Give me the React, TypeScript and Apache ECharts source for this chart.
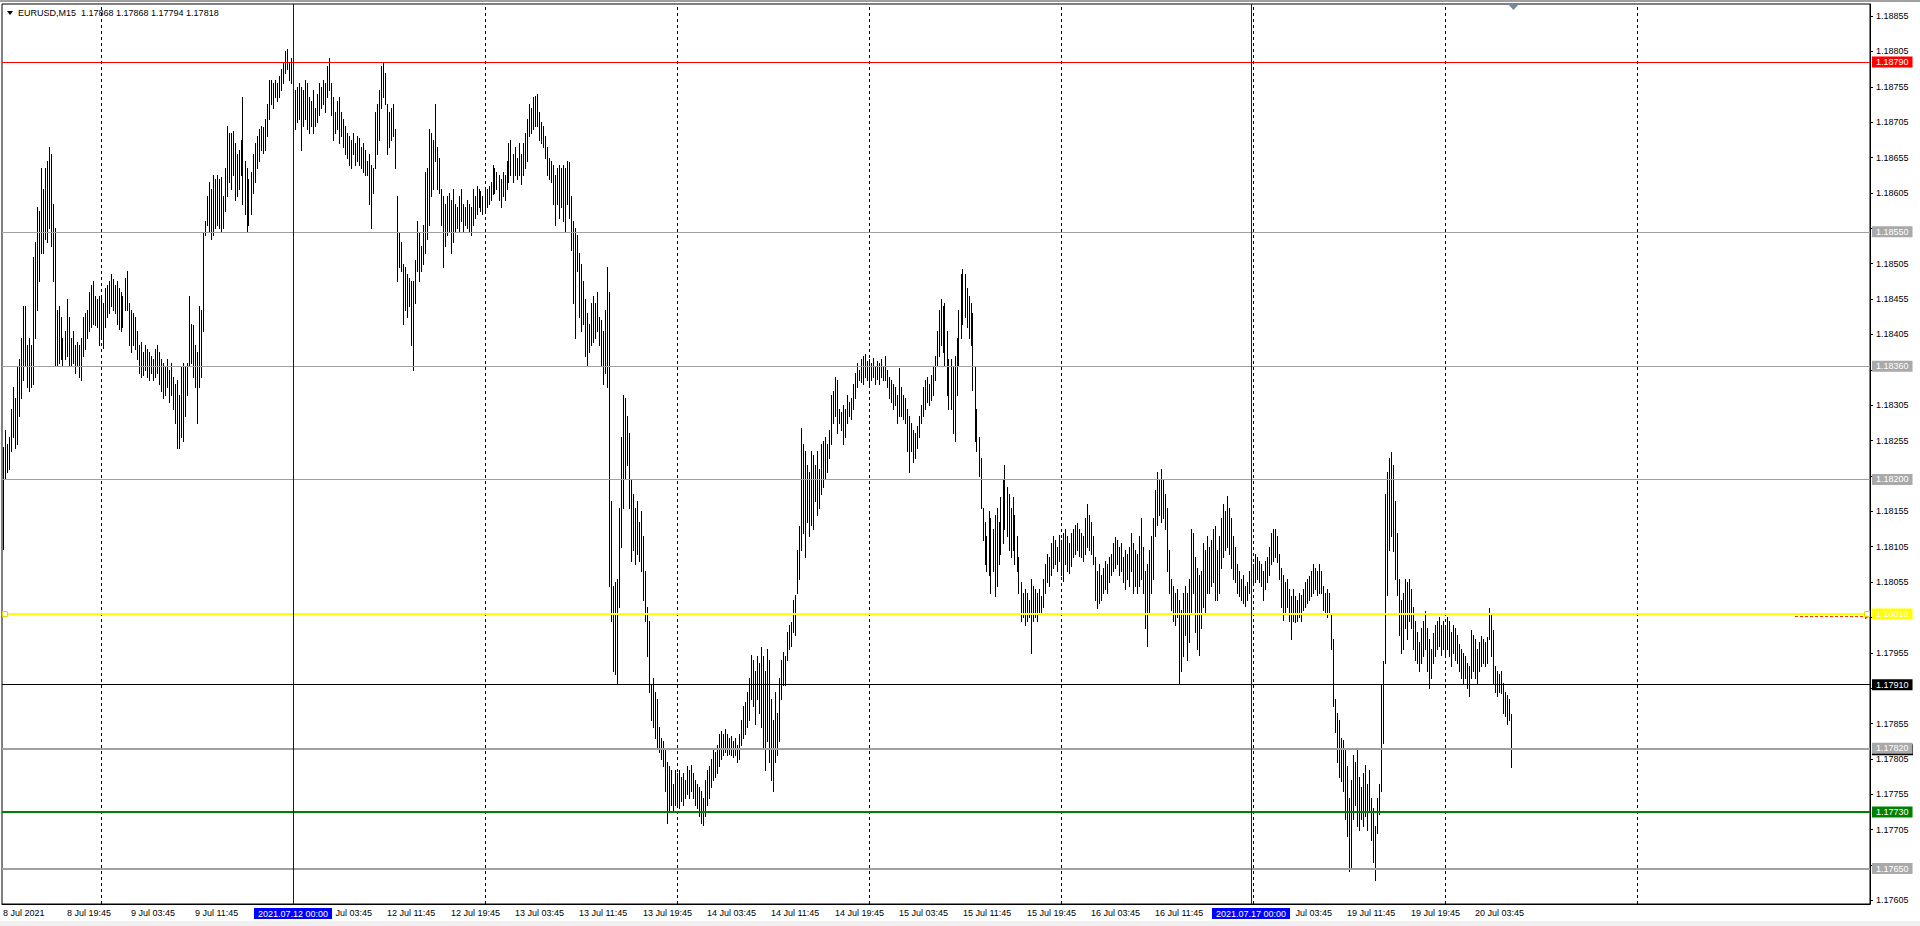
import React, { useEffect, useRef } from 'react';
import * as echarts from 'echarts';

// ---- data (prices are stored in points of 0.00001 above BASE_PRICE) ----
const BASE_PRICE = 1.176;
const POINT = 0.00001;

const jul08High = [646,670,650,660,700,730,715,760,770,800,845,845,790,800,790,915,935,985,980,1040,1010,1040,1050,1070,1060,990,955,840,845,830,800,810,855,830,800,810,790,795,790,800,830,835,840,865,875,880,860,855,860];
const jul08Low = [502,600,610,615,640,660,645,650,690,715,740,760,730,725,730,735,800,840,880,920,920,940,935,955,930,880,760,762,765,770,762,770,775,762,760,765,750,760,745,740,775,785,800,810,815,820,818,815,790];

const jul09High = [860,850,870,875,880,890,883,875,880,870,865,860,885,895,850,840,835,830,810,790,795,780,790,785,780,775,770,785,790,780,770,765,760,770,755,765,745,735,740,720,760,765,760,765,860,820,818,790,780,845,840,950,965,1000,1020,1010,1030,1025,1030,1025,1028,1000,1040,1100,1090,1090,1092,1075,1060,1065,1080,1140,1050,1040,1025,1035,1060,1075,1085,1095,1100,1098,1110,1130,1165,1165,1160,1165,1160,1170,1180,1190,1205,1208,1190,1195];
const jul09Low = [800,786,815,830,835,845,840,835,820,812,810,815,840,840,790,780,790,785,770,750,745,748,755,745,740,750,740,745,750,735,725,715,720,730,710,720,700,680,645,645,660,655,690,720,760,765,745,730,680,730,745,810,945,960,950,940,945,955,960,955,950,955,980,1000,1020,1010,1030,995,1000,1010,1030,990,975,950,960,975,1005,1020,1040,1050,1065,1062,1065,1085,1110,1130,1125,1140,1135,1140,1150,1160,1175,1180,1165,1160];

const jul12High = [1160,1150,1155,1160,1155,1150,1165,1160,1140,1135,1150,1125,1145,1160,1155,1165,1160,1185,1195,1160,1140,1120,1135,1140,1120,1110,1100,1090,1085,1080,1090,1075,1085,1082,1070,1075,1065,1050,1060,1045,1040,1120,1130,1150,1185,1190,1175,1130,1120,1125,1130,1095,1000,950,935,905,900,890,885,880,880,910,965,950,930,960,1035,1040,1095,1090,1080,1130,1070,1055,1010,1000,990,1000,1005,995,1010,990,985,1000,1010,990,985,995,990,985,1010,1000,1015,1010,1008,1000];
const jul12Low = [1100,1095,1105,1110,1065,1100,1110,1095,1090,1100,1090,1100,1105,1115,1125,1130,1120,1140,1150,1115,1080,1090,1095,1075,1085,1070,1060,1055,1045,1040,1060,1045,1050,1045,1040,1035,1030,1030,990,955,1005,1040,1060,1080,1125,1140,1130,1060,1070,1080,1085,1040,880,900,895,820,840,830,845,790,755,850,895,880,895,905,920,940,960,1000,1010,1050,1010,1005,960,900,930,945,950,920,935,950,955,950,965,950,960,955,950,945,960,970,975,985,980,975];

const jul13High = [1012,1010,1015,1020,1045,1040,1035,1030,1025,1035,1030,1050,1075,1080,1060,1070,1055,1075,1060,1075,1090,1110,1130,1125,1140,1142,1145,1120,1105,1100,1085,1070,1055,1050,1045,1030,1040,1045,1040,1045,1040,1050,1048,1000,965,955,945,920,905,880,855,835,820,850,860,850,865,830,825,810,840,900,865,570,450,455,460,560,660,720,715,690,665,600,580,560,570,540,555,520,470,420,400,310,320,300,290,250,235,230,220,200,195,190,170,190];
const jul13Low = [980,985,990,995,1003,1005,1010,995,985,1000,995,1010,1020,1030,1020,1030,1025,1030,1018,1030,1040,1050,1085,1090,1095,1100,1100,1080,1075,1070,1055,1030,1025,1020,990,960,990,970,985,965,950,990,970,925,850,800,895,830,810,820,775,760,780,790,795,800,810,790,760,735,750,730,450,400,330,325,313,420,505,560,600,620,560,485,500,480,495,485,470,430,400,350,300,260,250,235,220,215,205,195,160,115,130,140,130,140];

const jul14High = [185,190,180,185,175,195,190,197,185,175,170,165,160,150,175,190,195,205,220,215,225,240,245,240,247,240,235,238,230,235,225,240,260,280,285,300,320,352,345,330,350,340,363,350,330,360,345,290,260,300,270,320,345,356,350,385,395,398,430,437,500,534,673,650,640,620,610,640,635,620,640,615,650,655,660,650,670,720,725,745,740,700,695,705,700,720,710,715,735,750,765,755,770,775,778,768];
const jul14Low = [140,135,145,140,150,155,150,160,150,140,135,125,115,111,125,140,150,165,175,180,185,195,205,210,215,210,212,210,208,210,200,205,225,235,240,250,260,290,280,255,290,270,250,220,190,230,200,175,160,200,210,230,290,309,310,345,360,365,385,380,440,460,500,525,490,540,520,535,530,570,550,560,580,590,600,610,630,650,680,690,665,680,670,650,660,680,690,685,700,715,730,740,738,735,745,740];

const jul15High = [770,765,772,760,768,765,770,760,775,755,745,740,735,730,720,758,730,720,715,700,690,680,670,665,675,690,705,730,740,745,735,748,760,775,810,840,855,845,850,810,770,770,760,775,800,840,890,898,890,870,860,850,835,760,700,660,630,560,540,520,555,545,530,550,560,540,575,600,620,590,580,560,575,550,520,490,455,440,445,440,430,460,450,445,440,445,435,460,480,495,490,510,520,515,505,522];
const jul15Low = [735,740,745,735,742,735,745,740,740,730,715,710,700,705,680,690,690,685,680,640,610,640,625,630,645,660,680,690,700,710,705,712,720,740,760,775,790,780,760,720,700,700,665,655,720,760,800,820,830,815,800,790,727,655,640,605,560,515,480,470,465,440,470,435,450,480,495,510,530,520,500,490,500,480,470,440,400,405,395,400,405,355,400,405,400,410,410,420,440,455,450,465,475,480,470,485];

const jul16High = [515,525,530,520,510,525,530,535,538,530,525,520,545,565,550,540,520,490,470,480,465,475,485,480,490,495,510,518,515,505,510,490,500,495,505,525,510,500,495,520,545,505,470,480,500,520,545,585,610,600,615,600,580,560,500,460,450,440,445,430,415,440,450,440,460,530,525,490,475,465,470,510,500,520,505,515,530,534,500,520,545,565,555,576,560,545,520,505,480,470,460,465,450,455,470,465];
const jul16Low = [465,456,480,470,468,478,490,495,500,492,490,485,495,505,500,495,480,430,418,425,430,440,445,440,455,465,470,475,480,465,470,455,445,460,450,470,440,450,440,450,460,440,390,365,410,440,460,520,535,550,540,545,530,470,440,415,400,395,405,313,330,350,380,345,370,410,440,385,360,352,390,420,410,440,440,450,455,430,430,440,475,490,500,505,495,475,460,455,440,435,430,425,421,430,440,429];

const jul19High = [480,495,490,485,480,470,485,491,505,525,530,530,520,495,475,465,455,460,445,435,445,435,430,440,437,445,455,460,464,470,480,475,470,480,470,450,440,445,440,410,375,290,270,260,235,232,220,195,150,175,210,200,220,180,165,185,197,170,190,150,135,110,150,170,310,344,580,610,630,639,620,570,525,460,430,440,460,455,460,445,420,400,385,370,390,400,414,390,375,360,383,395,400,406,395,400];
const jul19Low = [452,455,460,455,450,429,445,455,465,480,485,490,483,460,420,402,410,420,400,375,400,398,400,405,400,415,420,425,430,435,440,445,437,440,440,415,410,406,410,360,280,243,200,180,174,160,120,96,46,50,120,140,110,104,120,110,125,104,130,90,60,34,100,127,160,228,340,437,500,520,499,460,437,380,355,360,390,375,400,390,360,345,340,330,340,350,360,330,305,320,340,350,360,365,352,360];

const jul20High = [395,406,400,385,395,390,380,367,360,355,350,340,336,387,380,375,360,370,379,375,370,378,418,410,387,336,330,325,330,313,300,295,290,268];
const jul20Low = [350,360,350,336,355,345,340,330,320,313,320,305,294,320,330,320,313,330,336,340,336,340,375,350,313,300,294,300,298,270,265,255,260,194];

const sessions = [
  { date: '2021.07.08', firstSlot: 47, high: jul08High, low: jul08Low },
  { date: '2021.07.09', firstSlot: 0, high: jul09High, low: jul09Low },
  { date: '2021.07.12', firstSlot: 0, high: jul12High, low: jul12Low },
  { date: '2021.07.13', firstSlot: 0, high: jul13High, low: jul13Low },
  { date: '2021.07.14', firstSlot: 0, high: jul14High, low: jul14Low },
  { date: '2021.07.15', firstSlot: 0, high: jul15High, low: jul15Low },
  { date: '2021.07.16', firstSlot: 0, high: jul16High, low: jul16Low },
  { date: '2021.07.19', firstSlot: 0, high: jul19High, low: jul19Low },
  { date: '2021.07.20', firstSlot: 0, high: jul20High, low: jul20Low },
];
const futureDates = ['2021.07.21', '2021.07.22'];
const gridDates = ['2021.07.09', '2021.07.12', '2021.07.13', '2021.07.14', '2021.07.15', '2021.07.16', '2021.07.19', '2021.07.20', '2021.07.21'];

const titleSymbol = 'EURUSD,M15';
const lastBarOhlc = [1.17868, 1.17868, 1.17794, 1.17818];
const levelPrices = [1.1879, 1.1855, 1.1836, 1.182, 1.1801, 1.1791, 1.1782, 1.1773, 1.1765];
const markerTimes = ['2021.07.12 00:00', '2021.07.17 00:00'];
const yTickValues = [1.17605, 1.17655, 1.17705, 1.17755, 1.17805, 1.17855, 1.17905, 1.17955, 1.18005, 1.18055, 1.18105, 1.18155, 1.18205, 1.18255, 1.18305, 1.18355, 1.18405, 1.18455, 1.18505, 1.18555, 1.18605, 1.18655, 1.18705, 1.18755, 1.18805, 1.18855];
// [fromSlot, toSlot, price]: alert segment, then the two yellow end markers
const overlayMarks = [
  [896, 932, 1.18007],
  [1, 1, 1.1801],
  [932, 932, 1.1801],
];
const monthLabel = 'Jul';

// ---- styles ----
const FONT = '"Liberation Sans", Arial, sans-serif';
const levelStyles = [
  { line: '#ff0000', width: 1, box: '#ff0000' },
  { line: '#a0a0a0', width: 1, box: '#a9a9a9' },
  { line: '#a0a0a0', width: 1, box: '#a9a9a9' },
  { line: '#a0a0a0', width: 1, box: '#a9a9a9' },
  { line: '#ffff00', width: 2, box: '#ffff00' },
  { line: '#000000', width: 1, box: '#000000' },
  { line: '#a0a0a0', width: 2, box: '#a9a9a9' },
  { line: '#008000', width: 2, box: '#008000' },
  { line: '#a0a0a0', width: 2, box: '#a9a9a9' },
];
const TOTAL_SLOTS = 934;
const GRID_LEFT = 2;
const SLOT_PX = 2;
const MARKER_BOX_HALF = 40; // half width of the blue time boxes, px
const DAY_PREFIX_PX = 12.5; // width of "12 " at 9px

const pad = (n: number) => (n < 10 ? '0' + n : '' + n);
const slotTime = (s: number) => pad(Math.floor(s / 4)) + ':' + pad((s % 4) * 15);

function buildData() {
  const categories: string[] = [];
  const bars: number[][] = [];
  sessions.forEach((s) => {
    s.high.forEach((h, j) => {
      const idx = categories.length;
      categories.push(s.date + ' ' + slotTime(s.firstSlot + j));
      bars.push([idx, BASE_PRICE + s.low[j] * POINT, BASE_PRICE + h * POINT]);
    });
  });
  const lastIndex = categories.length - 1;
  const lastSession = sessions[sessions.length - 1];
  let slot = lastSession.firstSlot + lastSession.high.length;
  let date = lastSession.date;
  let f = 0;
  while (categories.length < TOTAL_SLOTS) {
    if (slot >= 96) {
      slot = 0;
      date = futureDates[Math.min(f, futureDates.length - 1)];
      f++;
    }
    categories.push(date + ' ' + slotTime(slot));
    slot++;
  }
  return { categories, bars, lastIndex };
}

export default function App() {
  const ref = useRef<HTMLDivElement>(null);
  useEffect(() => {
    document.body.style.margin = '0';
    const el = ref.current;
    if (!el) return;
    const chart = echarts.init(el, null, { renderer: 'svg' });
    const { categories, bars, lastIndex } = buildData();

    const findBarAtOrBefore = (t: string) => {
      let k = 0;
      for (let i = 0; i <= lastIndex; i++) if (categories[i] <= t) k = i;
      return k;
    };
    const markerIdx = markerTimes.map(findBarAtOrBefore);
    const slotX = (i: number) => GRID_LEFT + SLOT_PX * i + SLOT_PX / 2;

    const gridLines = gridDates
      .map((d) => categories.indexOf(d + ' 00:00'))
      .filter((i) => i >= 0)
      .map((i) => ({
        xAxis: i,
        lineStyle: { color: '#000', width: 1, type: [3, 3] },
        label: { show: false },
      }));

    const blueLines = markerTimes.map((t, k) => ({
      xAxis: markerIdx[k],
      lineStyle: { color: '#0000ff', width: 1, type: 'solid' },
      label: {
        show: true,
        position: 'start',
        distance: 4,
        formatter: t,
        color: '#ffffff',
        backgroundColor: '#0000ff',
        padding: [1, 4, 1, 4],
        fontSize: 9,
        lineHeight: 9,
        fontFamily: FONT,
      },
    }));

    const levelLine = (price: number, st: { line: string; width: number; box: string }) => ({
      yAxis: price,
      lineStyle: { color: st.line, width: st.width, type: 'solid' },
      label: {
        show: true,
        position: 'end',
        distance: 2,
        formatter: price.toFixed(5),
        color: '#ffffff',
        backgroundColor: st.box,
        padding: [1, 4, 1, 4],
        fontSize: 9,
        lineHeight: 9,
        fontFamily: FONT,
      },
    });
    const levels = levelPrices.map((p, i) => levelLine(p, levelStyles[i]));

    // tick labels hidden behind level boxes
    const labelValues = yTickValues.filter((v) => levelPrices.every((p) => Math.abs(p - v) > 0.0001));

    const xLabelFormatter = (value: string, index: number) => {
      if (index > lastIndex) return '';
      const day = parseInt(value.slice(8, 10), 10);
      const tail = monthLabel + ' ' + (index === 0 ? value.slice(0, 4) : value.slice(11));
      const x = slotX(index);
      for (const m of markerIdx) {
        const c = slotX(m);
        if (x >= c - MARKER_BOX_HALF && x <= c + MARKER_BOX_HALF) {
          if (x + DAY_PREFIX_PX >= c + MARKER_BOX_HALF - 2) return '{t|' + tail + '}';
          return '';
        }
      }
      return day + ' ' + tail;
    };

    const option: any = {
      animation: false,
      backgroundColor: '#ffffff',
      grid: {
        left: GRID_LEFT,
        top: 4,
        width: TOTAL_SLOTS * SLOT_PX,
        height: 900,
        containLabel: false,
        outerBoundsMode: 'none',
        show: true,
        borderColor: '#000000',
        borderWidth: 1,
        backgroundColor: '#ffffff',
      },
      xAxis: {
        type: 'category',
        data: categories,
        boundaryGap: true,
        axisLine: { lineStyle: { color: '#000', width: 1 } },
        axisTick: { interval: 31, alignWithLabel: true, length: 3, lineStyle: { color: '#000' } },
        axisLabel: {
          interval: 31,
          align: 'left',
          margin: 4,
          fontSize: 9,
          fontFamily: FONT,
          color: '#000',
          formatter: xLabelFormatter,
          rich: { t: { fontSize: 9, fontFamily: FONT, color: '#000', padding: [0, 0, 0, DAY_PREFIX_PX] } },
        },
        splitLine: { show: false },
      },
      yAxis: {
        type: 'value',
        position: 'right',
        min: 1.176,
        max: 1.18872,
        scale: true,
        splitLine: { show: false },
        axisLine: { show: true, lineStyle: { color: '#000', width: 1 } },
        axisTick: { show: true, length: 3, customValues: yTickValues, lineStyle: { color: '#000' } },
        axisLabel: {
          customValues: labelValues,
          formatter: (v: number) => v.toFixed(5),
          margin: 6,
          fontSize: 9,
          fontFamily: FONT,
          color: '#000',
        },
      },
      series: [
        {
          type: 'line',
          data: [],
          silent: true,
          z: 1,
          markLine: {
            silent: true,
            precision: 6,
            symbol: ['none', 'none'],
            animation: false,
            data: [...gridLines, ...levels, ...blueLines],
          },
        },
        {
          type: 'custom',
          data: bars,
          silent: true,
          z: 3,
          progressive: 0,
          encode: { x: 0, y: [1, 2] },
          renderItem: (_params: any, api: any) => {
            const i = api.value(0);
            const lo = api.coord([i, api.value(1)]);
            const hi = api.coord([i, api.value(2)]);
            const px = Math.floor(lo[0]) + 0.5;
            return {
              type: 'line',
              shape: { x1: px, y1: Math.round(hi[1]), x2: px, y2: Math.round(lo[1]) + 1 },
              style: { stroke: '#000000', lineWidth: 1 },
            };
          },
        },
        {
          type: 'custom',
          data: overlayMarks,
          silent: true,
          z: 5,
          progressive: 0,
          clip: false,
          encode: { x: [0, 1], y: 2 },
          renderItem: (params: any, api: any) => {
            const p1 = api.coord([api.value(0), api.value(2)]);
            const p2 = api.coord([api.value(1), api.value(2)]);
            if (params.dataIndex === 0) {
              const y = Math.round(p1[1]) + 0.5;
              return {
                type: 'group',
                children: [
                  {
                    type: 'line',
                    shape: { x1: p1[0], y1: y, x2: p2[0], y2: y },
                    style: { stroke: '#ff3300', lineWidth: 1, lineDash: [3, 2] },
                  },
                  {
                    type: 'polygon',
                    shape: { points: [[p2[0] - 2, y - 3], [p2[0] + 2, y], [p2[0] - 2, y + 3]] },
                    style: { fill: '#ff3300' },
                  },
                ],
              };
            }
            return {
              type: 'rect',
              shape: { x: Math.round(p1[0]) - 2.5, y: Math.round(p1[1]) - 2.5, width: 5, height: 5 },
              style: { fill: '#ffffff', stroke: '#e6d800', lineWidth: 1 },
            };
          },
        },
      ],
      graphic: [
        { type: 'rect', shape: { x: 0, y: 0, width: 1920, height: 2 }, style: { fill: '#a0a0a0' }, silent: true },
        { type: 'rect', shape: { x: 0, y: 921, width: 1920, height: 5 }, style: { fill: '#f0f0f0' }, silent: true },
        { type: 'polygon', shape: { points: [[7, 11], [13, 11], [10, 15]] }, style: { fill: '#000' }, silent: true },
        {
          type: 'text',
          x: 18,
          y: 13,
          style: {
            text: titleSymbol + '  ' + lastBarOhlc.map((v) => v.toFixed(5)).join(' '),
            fontSize: 9,
            fontFamily: FONT,
            fill: '#000',
            verticalAlign: 'middle',
          },
          silent: true,
        },
        { type: 'polygon', shape: { points: [[1508, 4], [1519, 4], [1513.5, 10]] }, style: { fill: '#778899' }, silent: true },
      ],
    };

    chart.setOption(option);

    // bid-price box on the price scale, mostly hidden behind the 1.17820 label
    const axisX = GRID_LEFT + TOTAL_SLOTS * SLOT_PX;
    const bidY = chart.convertToPixel({ yAxisIndex: 0 }, lastBarOhlc[3]) as number;
    if (isFinite(bidY)) {
      chart.setOption({
        graphic: [
          {
            id: 'bidBox',
            type: 'rect',
            z: 0,
            shape: { x: axisX + 2, y: bidY - 5.5, width: 41, height: 11 },
            style: { fill: '#000000' },
            silent: true,
          },
        ],
      });
    }

    return () => chart.dispose();
  }, []);

  return (
    <div
      ref={ref}
      style={{ position: 'absolute', left: 0, top: 0, width: 1920, height: 926, background: '#fff' }}
    />
  );
}
